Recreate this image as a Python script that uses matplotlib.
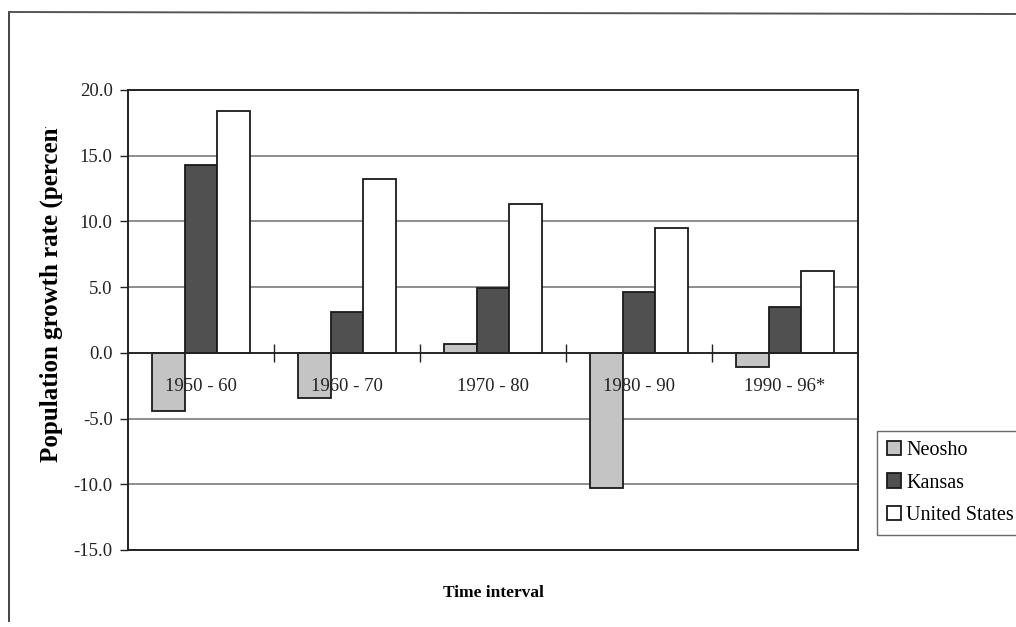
import matplotlib
matplotlib.use("Agg")
import matplotlib.pyplot as plt
from matplotlib.lines import Line2D
from matplotlib.transforms import Bbox, TransformedBbox
import numpy as np

categories = ["1950 - 60", "1960 - 70", "1970 - 80", "1980 - 90", "1990 - 96*"]
neosho = [-4.4, -3.4, 0.7, -10.3, -1.1]
kansas = [14.3, 3.1, 4.9, 4.6, 3.5]
united_states = [18.4, 13.2, 11.3, 9.5, 6.2]
series_names = ["Neosho", "Kansas", "United States"]
y_ticks = [-15.0, -10.0, -5.0, 0.0, 5.0, 10.0, 15.0, 20.0]

plt.rcParams['font.family'] = ['Liberation Serif', 'DejaVu Serif']

W, H = 1016, 627
fig = plt.figure(figsize=(W / 100, H / 100), dpi=100)
ax = fig.add_axes([128 / W, 1 - 550 / H, (858 - 128) / W, (550 - 90) / H])

x = np.arange(len(categories))
bw = 0.225
fills = ["#c4c4c4", "#505050", "#ffffff"]
for i, (vals, col, name) in enumerate(zip([neosho, kansas, united_states], fills, series_names)):
    ax.bar(x + (i - 1) * bw, vals, width=bw, color=col, edgecolor="#1a1a1a",
           linewidth=1.3, label=name, zorder=3)

ax.set_xlim(-0.5, len(categories) - 0.5)
ax.set_ylim(-15, 20)
ax.set_yticks(y_ticks)
ax.set_yticklabels([f"{v:.1f}" for v in y_ticks])
ax.tick_params(axis='y', direction='out', length=6, width=1, labelsize=13.5,
               pad=5, colors="#222222")
ax.tick_params(axis='x', bottom=False, labelbottom=False)
ax.grid(axis='y', color="#7a7a7a", linewidth=1.2, zorder=0)
for s in ax.spines.values():
    s.set_linewidth(1.4)
    s.set_color("#222222")

# zero-line axis with category labels
zero_frac = (0 - (-15)) / (20 - (-15))
sec = ax.secondary_xaxis(zero_frac)
sec.set_zorder(5)
sec.set_xticks(x)
sec.set_xticklabels(categories)
sec.set_xticks(x[:-1] + 0.5, minor=True)
sec.tick_params(axis='x', which='major', length=0, labelsize=13.5, pad=18, colors="#222222")
sec.tick_params(axis='x', which='minor', length=13, direction='inout', width=1, colors="#222222")
sec.spines['bottom'].set_linewidth(1.3)
sec.spines['bottom'].set_color("#222222")

ax.set_xlabel("Time interval", fontsize=12.5, fontweight='bold', labelpad=25)
ylab = fig.text(51 / W, 1 - 462 / H, "Population growth rate (percent)", rotation=90,
                fontsize=18, fontweight='bold', ha='center', va='bottom')
ylab.set_clip_box(TransformedBbox(Bbox([[0, 0], [1, 1 - 127 / H]]), fig.transFigure))
ylab.set_clip_on(True)

leg = ax.legend(loc='upper left', bbox_to_anchor=(877 / W, 1 - 431 / H),
                bbox_transform=fig.transFigure, frameon=True, fancybox=False,
                fontsize=14.5, handlelength=0.7, handleheight=0.7, handletextpad=0.25,
                borderpad=0.5, labelspacing=0.66, borderaxespad=0)
leg.get_frame().set_edgecolor("#444444")
leg.get_frame().set_linewidth(1.0)

# outer chart frame (left and top edges visible)
fig.add_artist(Line2D([9 / W, 9 / W], [1 - 12 / H, 1 - 621 / H], color="#444444", lw=1.4,
                      transform=fig.transFigure))
fig.add_artist(Line2D([9 / W, 1.0], [1 - 12 / H, 1 - 14 / H], color="#555555", lw=1.4,
                      transform=fig.transFigure))

fig.savefig("out.png", dpi=100)
